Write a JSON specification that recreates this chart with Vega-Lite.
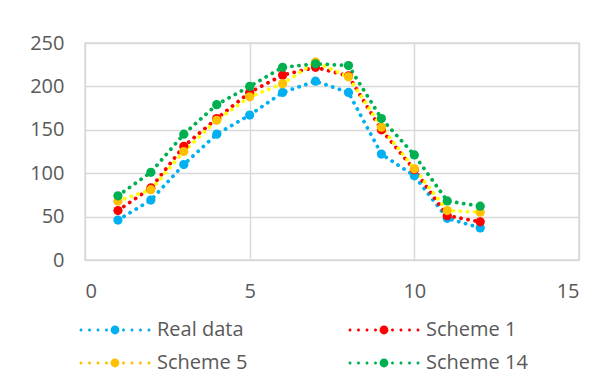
{
  "$schema": "https://vega.github.io/schema/vega-lite/v6.json",
  "width": 494,
  "height": 217,
  "autosize": {"type": "none"},
  "padding": {"left": 85, "top": 43, "right": 32, "bottom": 123},
  "background": "white",
  "config": {
    "font": "Open Sans",
    "view": {"stroke": "#D9D9D9", "strokeWidth": 1.5},
    "axis": {"labelFont": "Open Sans", "labelFontSize": 20, "labelColor": "#595959", "gridColor": "#D9D9D9", "gridWidth": 1.5, "domain": false, "ticks": false, "labelPadding": 21, "title": null}
  },
  "data": {"values": [
    {"x": 1, "series": "Real data", "y": 46},
    {"x": 2, "series": "Real data", "y": 69},
    {"x": 3, "series": "Real data", "y": 110},
    {"x": 4, "series": "Real data", "y": 145},
    {"x": 5, "series": "Real data", "y": 167},
    {"x": 6, "series": "Real data", "y": 193},
    {"x": 7, "series": "Real data", "y": 206},
    {"x": 8, "series": "Real data", "y": 193},
    {"x": 9, "series": "Real data", "y": 122},
    {"x": 10, "series": "Real data", "y": 97},
    {"x": 11, "series": "Real data", "y": 48},
    {"x": 12, "series": "Real data", "y": 37},
    {"x": 1, "series": "Scheme 1", "y": 57},
    {"x": 2, "series": "Scheme 1", "y": 83},
    {"x": 3, "series": "Scheme 1", "y": 131},
    {"x": 4, "series": "Scheme 1", "y": 163},
    {"x": 5, "series": "Scheme 1", "y": 193},
    {"x": 6, "series": "Scheme 1", "y": 213},
    {"x": 7, "series": "Scheme 1", "y": 222},
    {"x": 8, "series": "Scheme 1", "y": 212},
    {"x": 9, "series": "Scheme 1", "y": 150},
    {"x": 10, "series": "Scheme 1", "y": 104},
    {"x": 11, "series": "Scheme 1", "y": 51},
    {"x": 12, "series": "Scheme 1", "y": 44},
    {"x": 1, "series": "Scheme 5", "y": 68},
    {"x": 2, "series": "Scheme 5", "y": 81},
    {"x": 3, "series": "Scheme 5", "y": 125},
    {"x": 4, "series": "Scheme 5", "y": 161},
    {"x": 5, "series": "Scheme 5", "y": 188},
    {"x": 6, "series": "Scheme 5", "y": 203},
    {"x": 7, "series": "Scheme 5", "y": 228},
    {"x": 8, "series": "Scheme 5", "y": 211},
    {"x": 9, "series": "Scheme 5", "y": 153},
    {"x": 10, "series": "Scheme 5", "y": 105},
    {"x": 11, "series": "Scheme 5", "y": 57},
    {"x": 12, "series": "Scheme 5", "y": 55},
    {"x": 1, "series": "Scheme 14", "y": 74},
    {"x": 2, "series": "Scheme 14", "y": 101},
    {"x": 3, "series": "Scheme 14", "y": 145},
    {"x": 4, "series": "Scheme 14", "y": 179},
    {"x": 5, "series": "Scheme 14", "y": 200},
    {"x": 6, "series": "Scheme 14", "y": 222},
    {"x": 7, "series": "Scheme 14", "y": 226},
    {"x": 8, "series": "Scheme 14", "y": 224},
    {"x": 9, "series": "Scheme 14", "y": 163},
    {"x": 10, "series": "Scheme 14", "y": 121},
    {"x": 11, "series": "Scheme 14", "y": 68},
    {"x": 12, "series": "Scheme 14", "y": 62}
  ]},
  "encoding": {
    "x": {"field": "x", "type": "quantitative", "scale": {"domain": [0, 15], "nice": false}, "axis": {"values": [0, 5, 10, 15], "grid": true}},
    "y": {"field": "y", "type": "quantitative", "scale": {"domain": [0, 250], "nice": false}, "axis": {"values": [0, 50, 100, 150, 200, 250], "grid": true}}
  },
  "layer": [
    {
      "mark": {"type": "line", "strokeWidth": 3.8, "strokeCap": "round", "strokeDash": [0.1, 7]},
      "encoding": {
        "color": {"field": "series", "type": "nominal", "legend": null,
          "scale": {"domain": ["Real data", "Scheme 1", "Scheme 5", "Scheme 14"], "range": ["#00B0F0", "#FF0000", "#FFFF00", "#00B050"]}}
      }
    },
    {
      "mark": {"type": "point", "filled": true, "opacity": 1, "size": 85},
      "encoding": {
        "color": {"field": "series", "type": "nominal",
          "scale": {"domain": ["Real data", "Scheme 1", "Scheme 5", "Scheme 14"], "range": ["#00B0F0", "#FF0000", "#FFC000", "#00B050"]},
          "legend": {
            "title": null, "orient": "none", "legendX": 20, "legendY": 277, "direction": "horizontal", "columns": 2,
            "columnPadding": 100, "rowPadding": 13,
            "labelFont": "Open Sans", "labelFontSize": 20, "labelColor": "#595959", "labelOffset": 32,
            "symbolSize": 400, "symbolOpacity": 1, "symbolStrokeWidth": 0,
            "symbolType": "M-3.55,0a0.15,0.15 0 1,0 0.3,0a0.15,0.15 0 1,0 -0.3,0M-2.7,0a0.15,0.15 0 1,0 0.3,0a0.15,0.15 0 1,0 -0.3,0M-1.85,0a0.15,0.15 0 1,0 0.3,0a0.15,0.15 0 1,0 -0.3,0M-1,0a0.15,0.15 0 1,0 0.3,0a0.15,0.15 0 1,0 -0.3,0M-0.44,0a0.44,0.44 0 1,0 0.88,0a0.44,0.44 0 1,0 -0.88,0M0.7,0a0.15,0.15 0 1,0 0.3,0a0.15,0.15 0 1,0 -0.3,0M1.55,0a0.15,0.15 0 1,0 0.3,0a0.15,0.15 0 1,0 -0.3,0M2.4,0a0.15,0.15 0 1,0 0.3,0a0.15,0.15 0 1,0 -0.3,0M3.25,0a0.15,0.15 0 1,0 0.3,0a0.15,0.15 0 1,0 -0.3,0"
          }
        }
      }
    }
  ],
  "resolve": {"scale": {"color": "independent"}, "legend": {"color": "independent"}}
}
